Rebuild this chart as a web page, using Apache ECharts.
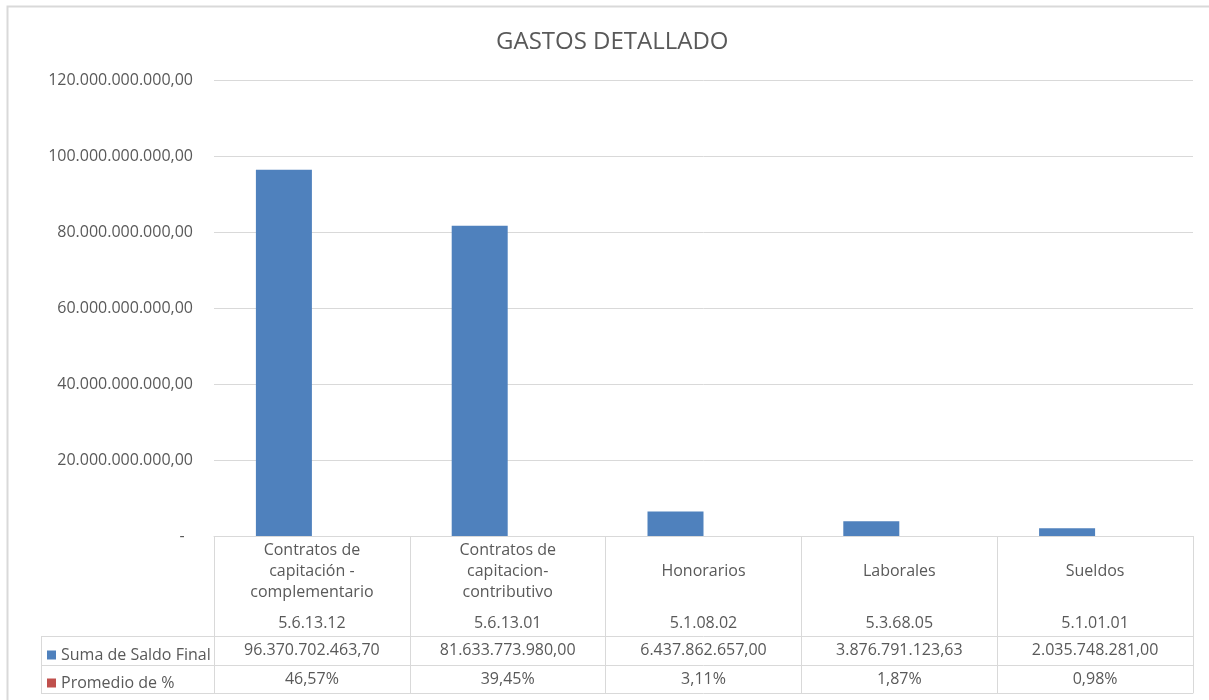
<!DOCTYPE html>
<html>
<head>
<meta charset="utf-8">
<script src="https://cdn.jsdelivr.net/npm/echarts@6/dist/echarts.min.js"></script>
<style>
html,body{margin:0;padding:0;background:#fff;}
#chart{width:1209px;height:700px;}
</style>
</head>
<body>
<div id="chart"></div>
<script>
// ---- data ----
var title = 'GASTOS DETALLADO';
var categories = ['Contratos de\ncapitación -\ncomplementario', 'Contratos de\ncapitacion-\ncontributivo', 'Honorarios', 'Laborales', 'Sueldos'];
var codes = ['5.6.13.12', '5.6.13.01', '5.1.08.02', '5.3.68.05', '5.1.01.01'];
var seriesNames = ['Suma de Saldo Final', 'Promedio de %'];
var saldoFinal = [96370702463.70, 81633773980.00, 6437862657.00, 3876791123.63, 2035748281.00];
var promedioPct = [0.4657, 0.3945, 0.0311, 0.0187, 0.0098];
var yTicks = [0, 20000000000, 40000000000, 60000000000, 80000000000, 100000000000, 120000000000];

// ---- formatting helpers ----
function fmtNum(v, dec) {
  var s = v.toFixed(dec);
  var parts = s.split('.');
  var ip = parts[0].replace(/\B(?=(\d{3})+(?!\d))/g, '.');
  return dec > 0 ? ip + ',' + parts[1] : ip;
}
function fmtPct(v) { return fmtNum(v * 100, 2) + '%'; }

var FONT = 'Open Sans';
var FS = 16;
var TXT = '#595959';
var LINE = '#d9d9d9';
var BLUE = '#4f81bd';
var RED = '#c0504d';

var chart = echarts.init(document.getElementById('chart'));

var gridLeft = 214, gridRight = 16, gridTop = 80, gridBottom = 164;

var option = {
  backgroundColor: '#fff',
  animation: false,
  textStyle: { fontFamily: FONT },
  title: {
    text: title, left: 491, top: 25,
    textStyle: { fontFamily: FONT, fontSize: 24, fontWeight: 'normal', color: TXT }
  },
  legend: {
    orient: 'vertical', left: 42, top: 642,
    itemWidth: 9, itemHeight: 9, itemGap: 12,
    icon: 'rect',
    data: seriesNames,
    textStyle: { fontFamily: FONT, fontSize: FS, color: TXT },
    selectedMode: false
  },
  grid: { left: gridLeft, right: gridRight, top: gridTop, bottom: gridBottom, containLabel: false },
  xAxis: [
    {
      type: 'category', data: categories, position: 'bottom',
      axisLine: { show: true, lineStyle: { color: LINE } },
      axisTick: { show: true, length: 100, lineStyle: { color: LINE } },
      axisLabel: {
        interval: 0, margin: 4, color: TXT, fontFamily: FONT,
        formatter: function (val, idx) {
          var lines = val.split('\n');
          if (lines.length === 1) lines = [' ', lines[0], ' '];
          var out = lines.map(function (l) { return '{n|' + l + '}'; });
          out.push('{c|' + codes[idx] + '}');
          return out.join('\n');
        },
        rich: {
          n: { fontSize: FS, lineHeight: 21, color: TXT, fontFamily: FONT, align: 'center' },
          c: { fontSize: FS, lineHeight: 40, color: TXT, fontFamily: FONT, align: 'center' }
        }
      }
    },
    {
      type: 'category', data: categories, position: 'bottom', offset: 100,
      axisLine: { show: true, lineStyle: { color: LINE } },
      axisTick: { show: true, length: 29, lineStyle: { color: LINE } },
      axisLabel: {
        interval: 0, margin: 6, color: TXT, fontFamily: FONT, fontSize: FS,
        formatter: function (val, idx) { return fmtNum(saldoFinal[idx], 2); }
      }
    },
    {
      type: 'category', data: categories, position: 'bottom', offset: 129,
      axisLine: { show: true, lineStyle: { color: LINE } },
      axisTick: { show: true, length: 28, lineStyle: { color: LINE } },
      axisLabel: {
        interval: 0, margin: 6, color: TXT, fontFamily: FONT, fontSize: FS,
        formatter: function (val, idx) { return fmtPct(promedioPct[idx]); }
      }
    },
    {
      type: 'category', data: categories, position: 'bottom', offset: 157,
      axisLine: { show: true, lineStyle: { color: LINE } },
      axisTick: { show: false },
      axisLabel: { show: false }
    }
  ],
  yAxis: {
    type: 'value', min: yTicks[0], max: yTicks[yTicks.length - 1], interval: 20000000000,
    axisLine: { show: false }, axisTick: { show: false },
    splitLine: { lineStyle: { color: LINE } },
    axisLabel: {
      margin: 21, color: TXT, fontFamily: FONT, fontSize: FS,
      formatter: function (v) { return v === 0 ? '-  ' : fmtNum(v, 2); }
    }
  },
  series: [
    {
      name: seriesNames[0], type: 'bar', xAxisIndex: 0, data: saldoFinal,
      itemStyle: { color: BLUE }, barWidth: 56, barGap: '0%'
    },
    {
      name: seriesNames[1], type: 'bar', xAxisIndex: 0, data: promedioPct,
      itemStyle: { color: RED }, barWidth: 56, barGap: '0%'
    }
  ],
  graphic: [
    { type: 'rect', shape: { x: 7.5, y: 6.5, width: 1300, height: 800 }, style: { fill: 'none', stroke: LINE, lineWidth: 2 }, z: -1, silent: true },
    { type: 'line', shape: { x1: 41, y1: 636.5, x2: 214, y2: 636.5 }, style: { stroke: LINE, lineWidth: 1 }, silent: true },
    { type: 'line', shape: { x1: 41, y1: 665.5, x2: 214, y2: 665.5 }, style: { stroke: LINE, lineWidth: 1 }, silent: true },
    { type: 'line', shape: { x1: 41, y1: 693.5, x2: 214, y2: 693.5 }, style: { stroke: LINE, lineWidth: 1 }, silent: true },
    { type: 'line', shape: { x1: 41.5, y1: 636, x2: 41.5, y2: 694 }, style: { stroke: LINE, lineWidth: 1 }, silent: true }
  ]
};
chart.setOption(option);
</script>
</body>
</html>
